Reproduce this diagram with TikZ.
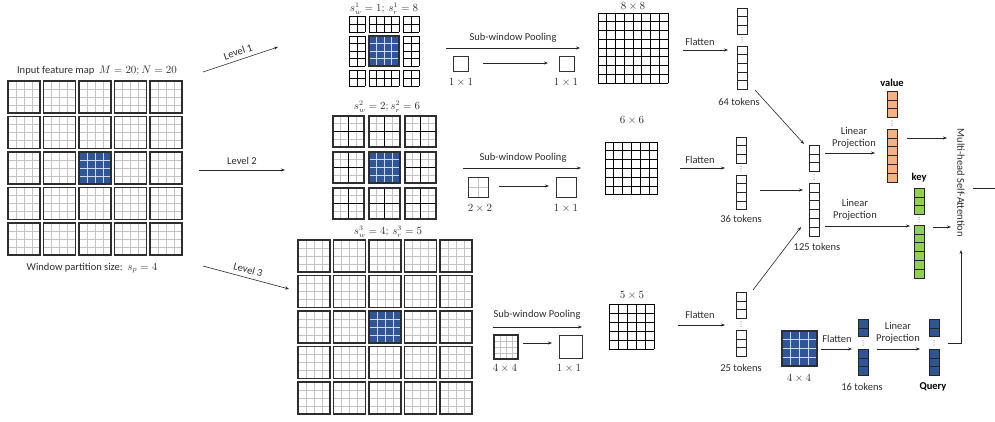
\documentclass[tikz,border=0pt]{standalone}
\usepackage{fontspec}
\setmainfont{Carlito}
\usetikzlibrary{arrows.meta}
\definecolor{qblue}{RGB}{47,85,151}
\definecolor{vorange}{RGB}{244,177,131}
\definecolor{kgreen}{RGB}{146,208,80}
\definecolor{gline}{RGB}{195,195,195}
\definecolor{bline}{RGB}{205,218,238}
\definecolor{txt}{RGB}{45,45,45}
\newcommand{\gwin}[3]{%
  \foreach \k in {1,2,3}{%
    \draw[gl] ({#1+\k*#3/4},{#2}) -- ++(0,{#3});
    \draw[gl] ({#1},{#2+\k*#3/4}) -- ++({#3},0);
  }%
  \draw[wb] ({#1},{#2}) rectangle ++({#3},{#3});
}
\newcommand{\bwin}[3]{%
  \fill[qblue] ({#1},{#2}) rectangle ++({#3},{#3});
  \foreach \k in {1,2,3}{%
    \draw[bl] ({#1+\k*#3/4},{#2}) -- ++(0,{#3});
    \draw[bl] ({#1},{#2+\k*#3/4}) -- ++({#3},0);
  }%
  \draw[wb] ({#1},{#2}) rectangle ++({#3},{#3});
}
\newcommand{\lwin}[3]{%
  \gwin{#1}{#2}{#3}%
  \draw[cl] ({#1+#3/2},{#2}) -- ++(0,{#3});
  \draw[cl] ({#1},{#2+#3/2}) -- ++({#3},0);
  \draw[wb] ({#1},{#2}) rectangle ++({#3},{#3});
}
\newcommand{\cgrid}[6]{%
  \foreach \k in {0,...,#3} \draw[cl] ({#1+\k*#5},{#2}) -- ++(0,{#4*#6});
  \foreach \k in {0,...,#4} \draw[cl] ({#1},{#2+\k*#6}) -- ++({#3*#5},0);
}
\newcommand{\tokcol}[8]{%
  \foreach \k in {1,...,#4} \filldraw[tk,fill=#8] ({#2},{#3+(\k-1)*#7}) rectangle ++(10,{#7});
  \foreach \k in {1,...,#6} \filldraw[tk,fill=#8] ({#2},{#5+(\k-1)*#7}) rectangle ++(10,{#7});
  \foreach \d in {-2.3,0,2.3} \fill[txt] ({#2+5},{(#3+#4*#7+#5)/2+\d}) circle[radius=0.45pt];
  \node[inner sep=0pt,minimum width=10pt,minimum height={(#5+#6*#7-#3)*1pt}] (#1) at ({#2+5},{(#3+#5+#6*#7)/2}) {};
}
\begin{document}
\begin{tikzpicture}[x=1pt,y=-1pt,
  wb/.style={draw=black!82,line width=1.1pt},
  gl/.style={draw=gline,line width=0.8pt},
  bl/.style={draw=bline,line width=0.8pt},
  cl/.style={draw=black,line width=0.85pt},
  tk/.style={draw=black!85,line width=0.6pt},
  bx/.style={draw=black!80,line width=0.8pt},
  arr/.style={-{Stealth[length=4pt,width=3pt]},line width=0.6pt,draw=black!85},
  parr/.style={-{Stealth[length=4pt,width=3pt]},line width=0.8pt,draw=black!85},
  lbl/.style={font=\fontsize{10.5}{12.5}\selectfont,text=txt,inner sep=0pt},
  blbl/.style={font=\fontsize{10.5}{12.5}\selectfont\bfseries,text=black,inner sep=0pt},
  mlbl/.style={font=\fontsize{10.5}{12.5}\selectfont,text=txt,inner sep=0pt}]
\useasboundingbox (0,0) rectangle (995,421);

% ---------------- input feature map
\node[lbl] (tin) at (97,71) {Input feature map\ \ $M=20;N=20$};
\foreach \i in {0,...,4}{\foreach \j in {0,...,4}{%
  \pgfmathsetmacro\xx{8+35.5*\i}\pgfmathsetmacro\yy{81+35.5*\j}%
  \gwin{\xx}{\yy}{32}}}
\bwin{79}{152}{32}
\node[lbl] (tws) at (92,268) {Window partition size:\ \ $s_p=4$};

% ---------------- level arrows
\coordinate (l1a) at (203,72); \coordinate (l1b) at (278,47);
\coordinate (l2a) at (199,170); \coordinate (l2b) at (285,170);
\coordinate (l3a) at (203,266); \coordinate (l3b) at (289,289);
\draw[arr] (l1a) -- node[lbl,sloped,above=4pt] (lv1) {Level 1} (l1b);
\draw[arr] (l2a) -- node[lbl,above=5pt] (lv2) {Level 2} (l2b);
\draw[arr] (l3a) -- node[lbl,sloped,above=4pt] (lv3) {Level 3} (l3b);

% ---------------- level 1
\node[mlbl] (s1) at (384,9) {$s_w^1=1;\,s_r^1=8$};
\cgrid{349}{16}{2}{2}{8}{8}
\cgrid{369}{16}{4}{2}{7.5}{8}
\cgrid{403}{16}{2}{2}{8}{8}
\cgrid{349}{36}{2}{4}{8}{7.5}
\bwin{369}{36}{30}
\cgrid{403}{36}{2}{4}{8}{7.5}
\cgrid{349}{70}{2}{2}{8}{8}
\cgrid{369}{70}{4}{2}{7.5}{8}
\cgrid{403}{70}{2}{2}{8}{8}

% ---------------- level 2
\node[mlbl] (s2) at (387,107) {$s_w^2=2;s_r^2=6$};
\foreach \i in {0,1,2}{\foreach \j in {0,1,2}{%
  \pgfmathsetmacro\xx{333+36*\i}\pgfmathsetmacro\yy{116+36*\j}%
  \lwin{\xx}{\yy}{31}}}
\bwin{369}{152}{31}

% ---------------- level 3
\node[mlbl] (s3) at (388,232) {$s_w^3=4;\,s_r^3=5$};
\foreach \i in {0,...,4}{\foreach \j in {0,...,4}{%
  \pgfmathsetmacro\xx{298+35.5*\i}\pgfmathsetmacro\yy{240+35.5*\j}%
  \gwin{\xx}{\yy}{32}}}
\bwin{369}{311}{32}

% ---------------- sub-window pooling, level 1
\coordinate (p1a) at (446,48); \coordinate (p1b) at (580,48);
\draw[parr] (p1a) -- (p1b);
\node[lbl] (sp1) at (513,38) {Sub-window Pooling};
\draw[bx] (453.5,56.5) rectangle ++(15,15);
\node[mlbl] (k1a) at (461,82) {$1\times1$};
\coordinate (q1a) at (483,63); \coordinate (q1b) at (548,63);
\draw[arr] (q1a) -- (q1b);
\draw[bx] (559,56.5) rectangle ++(15,15);
\node[mlbl] (k1b) at (566,82) {$1\times1$};
\node[mlbl] (g8l) at (633,6.5) {$8\times8$};
\cgrid{598}{13}{8}{8}{8.75}{8.75}

% ---------------- level 2 pooling
\coordinate (p2a) at (463,168); \coordinate (p2b) at (581,168);
\draw[parr] (p2a) -- (p2b);
\node[lbl] (sp2) at (523,158) {Sub-window Pooling};
\draw[gl] (478,177) -- (478,197);
\draw[gl] (468,187) -- (488,187);
\draw[bx] (468,177) rectangle ++(20,20);
\node[mlbl] (k2a) at (480,208) {$2\times2$};
\coordinate (q2a) at (499,186); \coordinate (q2b) at (549,186);
\draw[arr] (q2a) -- (q2b);
\draw[bx] (556,177) rectangle ++(20,20);
\node[mlbl] (k2b) at (566,208) {$1\times1$};
\node[mlbl] (g6l) at (632,120) {$6\times6$};
\cgrid{605}{142}{6}{6}{8.8}{8.8}

% ---------------- level 3 pooling
\coordinate (p3a) at (493,327); \coordinate (p3b) at (582,327);
\draw[parr] (p3a) -- (p3b);
\node[lbl] (sp3) at (537,315) {Sub-window Pooling};
\gwin{494}{335}{24}
\node[mlbl] (k3a) at (505,368) {$4\times4$};
\coordinate (q3a) at (523,343); \coordinate (q3b) at (552,343);
\draw[arr] (q3a) -- (q3b);
\draw[bx] (559,335) rectangle ++(23,23);
\node[mlbl] (k3b) at (569,368) {$1\times1$};
\node[mlbl] (g5l) at (632,295) {$5\times5$};
\cgrid{609}{304}{5}{5}{9}{9}

% ---------------- flatten
\coordinate (f1a) at (683,50); \coordinate (f1b) at (728,50);
\draw[arr] (f1a) -- (f1b);
\node[lbl] (fl1) at (700,42) {Flatten};
\coordinate (f2a) at (680,168); \coordinate (f2b) at (725,168);
\draw[arr] (f2a) -- (f2b);
\node[lbl] (fl2) at (700,160) {Flatten};
\coordinate (f3a) at (678,325); \coordinate (f3b) at (725,325);
\draw[arr] (f3a) -- (f3b);
\node[lbl] (fl3) at (700,315) {Flatten};

% token columns
\tokcol{c64}{737}{8}{3}{46}{5}{8.6}{white}
\node[lbl] (t64) at (739,102) {64 tokens};
\tokcol{c36}{736}{137}{3}{175}{4}{8.6}{white}
\node[lbl] (t36) at (741,219) {36 tokens};
\tokcol{c25}{736}{292}{3}{330}{3}{8.8}{white}
\node[lbl] (t25) at (741,368) {25 tokens};
\tokcol{c125}{809}{145}{3}{183}{6}{8.8}{white}
\node[lbl] (t125) at (817,247) {125 tokens};

\coordinate (m1a) at (755,90); \coordinate (m1b) at (804,144);
\draw[arr] (m1a) -- (m1b);
\coordinate (m2a) at (760,190); \coordinate (m2b) at (803,190);
\draw[arr] (m2a) -- (m2b);
\coordinate (m3a) at (753,290); \coordinate (m3b) at (801,227);
\draw[arr] (m3a) -- (m3b);

% value / key
\coordinate (lv1a) at (825,153); \coordinate (lv1b) at (875,153);
\draw[arr] (lv1a) -- (lv1b);
\node[lbl,align=center] (lp1) at (854,138) {Linear\\Projection};
\tokcol{cv}{887}{91}{3}{129}{6}{8.8}{vorange}
\node[blbl] (tv) at (892,83) {value};
\coordinate (lk1a) at (825,226); \coordinate (lk1b) at (910,226);
\draw[arr] (lk1a) -- (lk1b);
\node[lbl,align=center] (lp2) at (855,210) {Linear\\Projection};
\tokcol{ck}{914}{188}{3}{225}{6}{8.8}{kgreen}
\node[blbl] (tkey) at (919,178) {key};

% query
\bwin{782}{331}{35}
\node[mlbl] (k4) at (799,378) {$4\times4$};
\coordinate (f4a) at (821,349); \coordinate (f4b) at (852,349);
\draw[arr] (f4a) -- (f4b);
\node[lbl] (fl4) at (837,339) {Flatten};
\tokcol{c16}{858}{319}{2}{349}{3}{8.8}{qblue}
\node[lbl] (t16) at (862,387) {16 tokens};
\coordinate (lq1a) at (877,349); \coordinate (lq1b) at (920,349);
\draw[arr] (lq1a) -- (lq1b);
\node[lbl,align=center] (lp3) at (898,333) {Linear\\Projection};
\tokcol{cq}{929}{319}{2}{349}{3}{8.8}{qblue}
\node[blbl] (tq) at (933,387) {Query};

% attention
\node[lbl,rotate=-90] (mhsa) at (961,183) {Multi-head Self-Attention};
\coordinate (av1) at (907,138); \coordinate (av2) at (947,138);
\draw[arr] (av1) -- (av2);
\coordinate (ak1) at (933,227); \coordinate (ak2) at (951,227);
\draw[arr] (ak1) -- (ak2);
\coordinate (aq1) at (948,343); \coordinate (aq2) at (961,250);
\draw[arr] (aq1) -| (aq2);
\coordinate (out1) at (973,188); \coordinate (out2) at (995,188);
\draw[line width=0.6pt,draw=black!85] (out1) -- (out2);
\end{tikzpicture}
\end{document}
